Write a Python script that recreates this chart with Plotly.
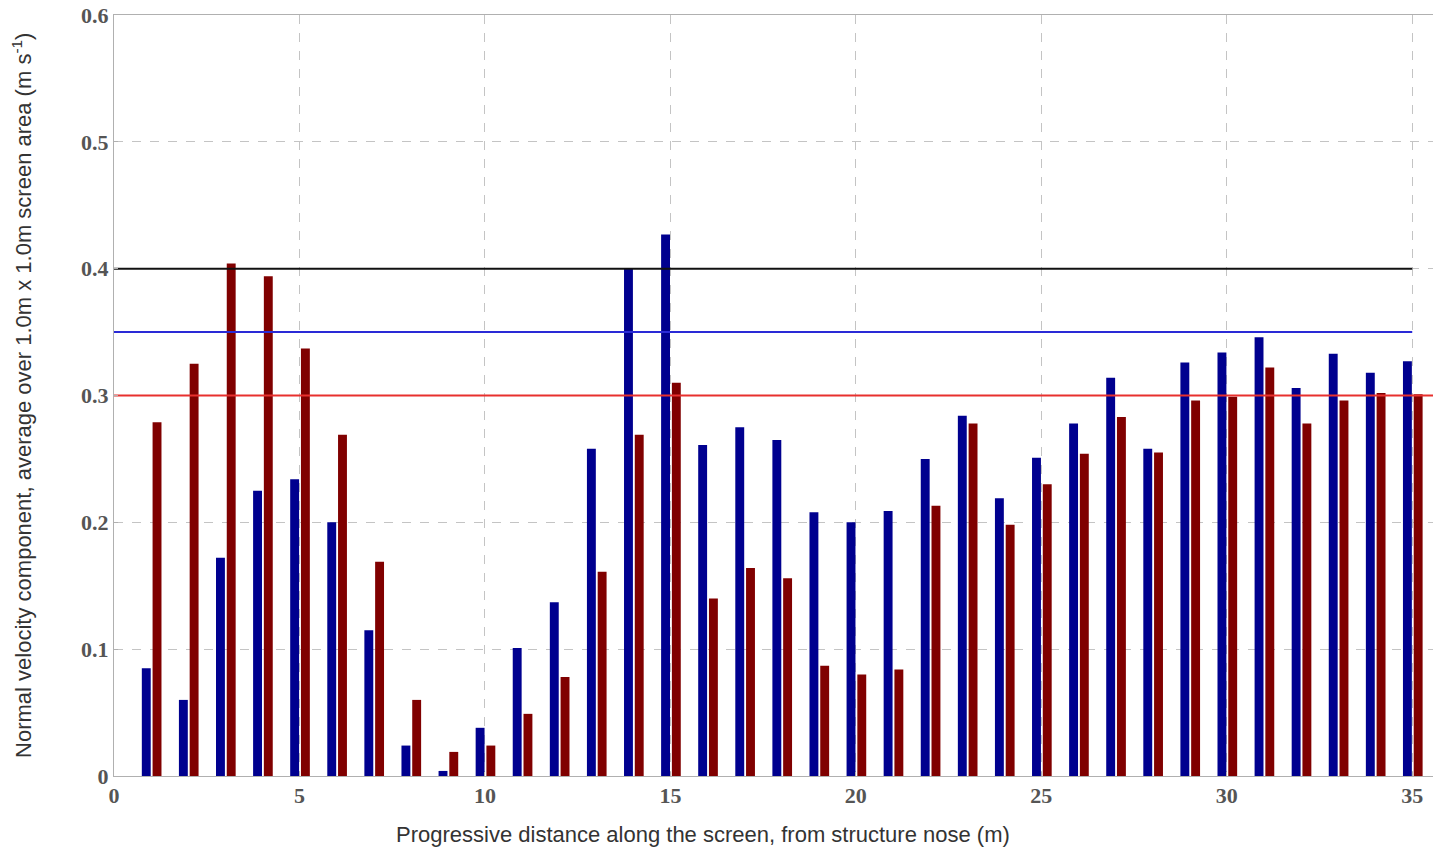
import plotly.graph_objects as go

# Distance along the screen (m)
positions = list(range(1, 36))

# Blue series (normal velocity component, m/s)
blue_values = [0.085, 0.060, 0.172, 0.225, 0.234, 0.200, 0.115, 0.024, 0.004, 0.038,
               0.101, 0.137, 0.258, 0.400, 0.427, 0.261, 0.275, 0.265, 0.208, 0.200,
               0.209, 0.250, 0.284, 0.219, 0.251, 0.278, 0.314, 0.258, 0.326, 0.334,
               0.346, 0.306, 0.333, 0.318, 0.327]

# Dark red series (normal velocity component, m/s)
red_values = [0.279, 0.325, 0.404, 0.394, 0.337, 0.269, 0.169, 0.060, 0.019, 0.024,
              0.049, 0.078, 0.161, 0.269, 0.310, 0.140, 0.164, 0.156, 0.087, 0.080,
              0.084, 0.213, 0.278, 0.198, 0.230, 0.254, 0.283, 0.255, 0.296, 0.299,
              0.322, 0.278, 0.296, 0.302, 0.301]

# Threshold lines
black_level = 0.40
blue_level = 0.35
red_level = 0.30
line_x_start = 0
line_x_end = 35
red_line_x_end = 35.8

x_ticks = [0, 5, 10, 15, 20, 25, 30, 35]
y_ticks = [0, 0.1, 0.2, 0.3, 0.4, 0.5, 0.6]
y_tick_text = ["0", "0.1", "0.2", "0.3", "0.4", "0.5", "0.6"]

x_title = "Progressive distance along the screen, from structure nose (m)"
y_title = "Normal velocity component, average over 1.0m x 1.0m screen area (m s<sup>-1</sup>)"

fig = go.Figure()

fig.add_trace(go.Bar(x=positions, y=blue_values, width=0.24, offset=-0.25,
                     marker=dict(color="#00008F", line=dict(width=0)), showlegend=False))
fig.add_trace(go.Bar(x=positions, y=red_values, width=0.24, offset=0.04,
                     marker=dict(color="#800000", line=dict(width=0)), showlegend=False))

fig.add_trace(go.Scatter(x=[line_x_start, line_x_end], y=[black_level, black_level], mode="lines",
                         line=dict(color="#111111", width=2), showlegend=False))
fig.add_trace(go.Scatter(x=[line_x_start, line_x_end], y=[blue_level, blue_level], mode="lines",
                         line=dict(color="#2a2ad6", width=2), showlegend=False))
fig.add_trace(go.Scatter(x=[line_x_start, red_line_x_end], y=[red_level, red_level], mode="lines",
                         line=dict(color="#e8302e", width=2), showlegend=False))

# The page body has an 8px default margin, so the figure is sized/offset to compensate
fig.update_layout(
    width=1425, height=840,
    margin=dict(l=106, r=0, t=7, b=72, autoexpand=False),
    paper_bgcolor="white", plot_bgcolor="white",
    barmode="overlay",
    font=dict(family="Liberation Sans, Arial, sans-serif", color="#333333"),
)

tick_font = dict(family="Liberation Serif, Times New Roman, serif", size=22, color="#555555",
                 weight="bold")

fig.update_xaxes(
    range=[0, 35.56], tickvals=x_ticks, ticktext=[str(v) for v in x_ticks],
    showgrid=True, gridcolor="#c4c4c4", griddash="dash", gridwidth=1,
    showline=True, linecolor="#b0b0b0", linewidth=1, mirror=True,
    ticks="inside", ticklen=4, tickcolor="#b0b0b0",
    zeroline=False, automargin=False, ticklabeloverflow="allow",
    tickfont=tick_font,
)
fig.update_yaxes(
    range=[0, 0.6], tickvals=y_ticks, ticktext=y_tick_text,
    showgrid=True, gridcolor="#c4c4c4", griddash="dash", gridwidth=1,
    showline=True, linecolor="#b0b0b0", linewidth=1, mirror=True,
    ticks="inside", ticklen=4, tickcolor="#b0b0b0",
    zeroline=False, automargin=False, ticklabeloverflow="allow",
    tickfont=tick_font,
)

# Axis titles placed as annotations (paper coordinates relative to plot area)
fig.add_annotation(text=x_title, xref="paper", yref="paper", x=0.4466, y=-0.0775,
                   xanchor="center", yanchor="middle", showarrow=False,
                   font=dict(family="Liberation Sans, Arial, sans-serif", size=22, color="#333333"))
fig.add_annotation(text=y_title, xref="paper", yref="paper", x=-0.0698, y=0.5007,
                   xanchor="center", yanchor="middle", showarrow=False, textangle=-90,
                   font=dict(family="Liberation Sans, Arial, sans-serif", size=22, color="#333333"))

fig.write_html("out.html")
